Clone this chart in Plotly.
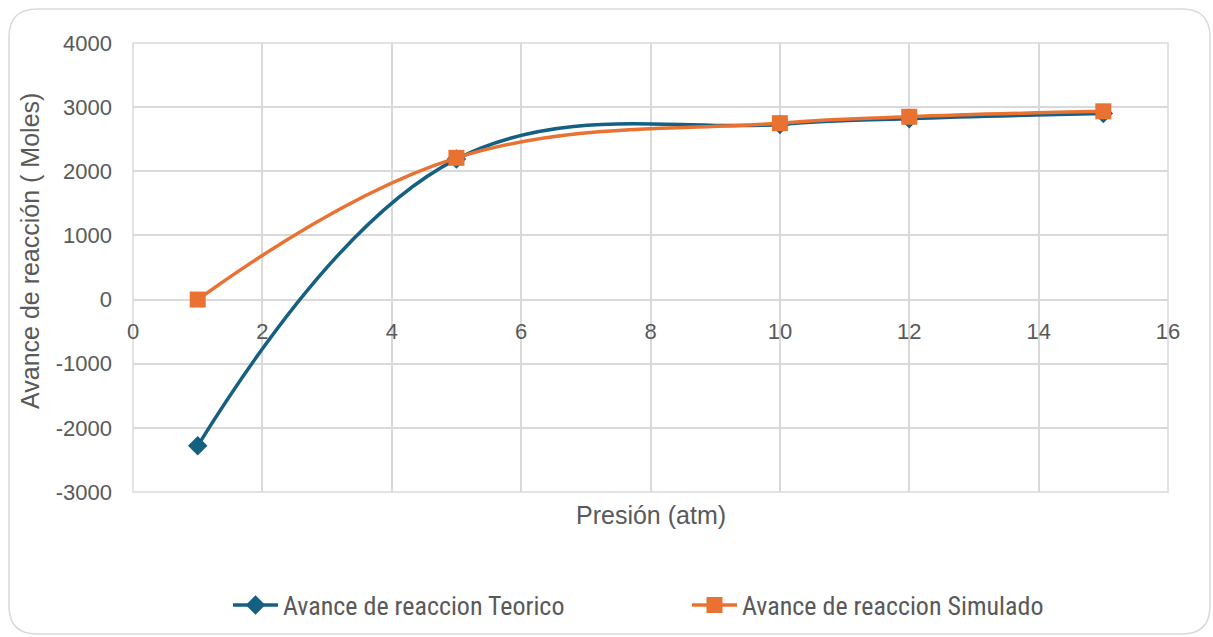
import plotly.graph_objects as go

presion = [1, 5, 10, 12, 15]
teorico = [-2280, 2190, 2730, 2820, 2900]
simulado = [0, 2210, 2750, 2850, 2935]

x_ticks = [0, 2, 4, 6, 8, 10, 12, 14, 16]
y_ticks = [-3000, -2000, -1000, 0, 1000, 2000, 3000, 4000]

W, H = 1213, 637
L, R, T, B = 133, 45, 43, 145
PW, PH = W - L - R, H - T - B

BLUE = "#156082"
ORANGE = "#E97132"
GRID = "#D9D9D9"
TXT = "#595959"
FONT = "Liberation Sans, Arial, sans-serif"
NARROW = "Liberation Sans Narrow, Roboto Condensed, Arial Narrow, sans-serif"

def px2paper(x, y):
    return (x - L) / PW, (H - B - y) / PH

fig = go.Figure()
fig.add_trace(go.Scatter(
    x=presion, y=teorico, name="Avance de reaccion Teorico", legend="legend",
    mode="lines+markers", line=dict(color=BLUE, width=3.5, shape="spline", smoothing=1.15),
    marker=dict(symbol="diamond", size=15, color=BLUE)))
fig.add_trace(go.Scatter(
    x=presion, y=simulado, name="Avance de reaccion Simulado", legend="legend2",
    mode="lines+markers", line=dict(color=ORANGE, width=3.5, shape="spline", smoothing=1.15),
    marker=dict(symbol="square", size=16, color=ORANGE)))

# rounded outer border
x0, y0 = px2paper(9, 9)
x1, y1 = px2paper(1210, 634)
rx, ry = 28 / PW, 28 / PH
path = (f"M {x0+rx},{y0} L {x1-rx},{y0} Q {x1},{y0} {x1},{y0-ry} "
        f"L {x1},{y1+ry} Q {x1},{y1} {x1-rx},{y1} L {x0+rx},{y1} "
        f"Q {x0},{y1} {x0},{y1+ry} L {x0},{y0-ry} Q {x0},{y0} {x0+rx},{y0} Z")
fig.add_shape(type="path", path=path, xref="paper", yref="paper",
              line=dict(color=GRID, width=1.5), layer="below")
fig.add_shape(type="rect", x0=0, y0=0, x1=1, y1=1, xref="paper", yref="paper",
              line=dict(color=GRID, width=1.5), layer="below")

tx, ty = px2paper(651, 515)
fig.add_annotation(text="Presión (atm)", x=tx, y=ty, xref="paper", yref="paper",
                   xanchor="center", yanchor="middle",
                   showarrow=False, font=dict(family=FONT, size=25, color=TXT))
ax, ay = px2paper(30, 251)
fig.add_annotation(text="Avance de reacción ( Moles)", x=ax, y=ay, xref="paper", yref="paper",
                   xanchor="center", yanchor="middle",
                   showarrow=False, textangle=-90, font=dict(family=FONT, size=25, color=TXT))

leg_common = dict(orientation="h", xref="container", yref="container",
                  xanchor="left", yanchor="middle", itemwidth=45,
                  font=dict(family=NARROW, size=26, color=TXT))

fig.update_layout(
    width=W, height=H, margin=dict(l=L, r=R, t=T, b=B, autoexpand=False),
    paper_bgcolor="white", plot_bgcolor="white",
    xaxis=dict(range=[0, 16], tickvals=x_ticks, ticktext=[str(v) for v in x_ticks],
               showgrid=True, gridcolor=GRID, gridwidth=1.5, zeroline=False,
               showline=False, anchor="free", position=3/7, automargin=False,
               ticklabelstandoff=16, tickfont=dict(family=FONT, size=22, color=TXT)),
    yaxis=dict(range=[-3000, 4000], tickvals=y_ticks, ticktext=[str(v) for v in y_ticks],
               showgrid=True, gridcolor=GRID, gridwidth=1.5, zeroline=True,
               zerolinecolor=GRID, zerolinewidth=1.5, showline=False, automargin=False,
               ticklabelstandoff=20, tickfont=dict(family=FONT, size=22, color=TXT)),
    legend=dict(x=228 / W, y=1 - 605 / H, **leg_common),
    legend2=dict(x=687 / W, y=1 - 605 / H, **leg_common),
    showlegend=True,
)

fig.write_html("out.html")
